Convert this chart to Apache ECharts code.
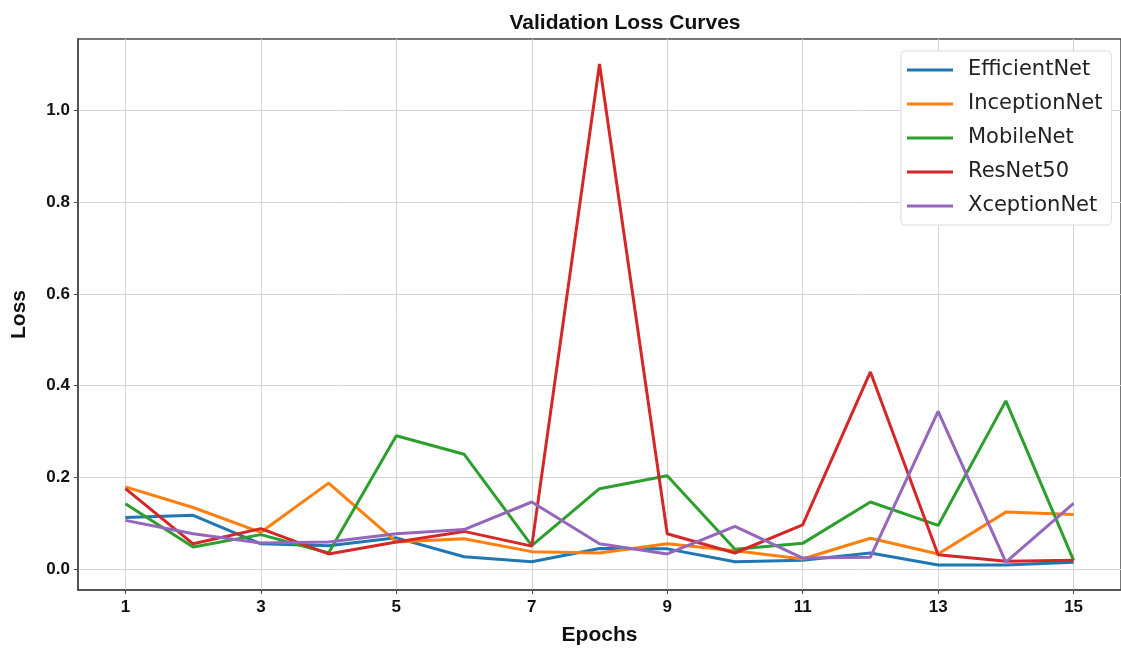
<!DOCTYPE html>
<html lang="en">
<head>
  <meta http-equiv="Content-Type" content="text/html; charset=UTF-8">
  <title>Validation Loss Curves</title>
  <style>
    html, body {
      margin: 0;
      padding: 0;
      background: #fff;
    }
    #myChart {
      width: 1121px;
      height: 652px;
    }
  </style>
</head>
<body>
  <div id="myChart"></div>
  <script src="https://cdn.jsdelivr.net/npm/echarts@6.0.0/dist/echarts.min.js"></script>
  <script>
    // data
    const epochs = [1, 2, 3, 4, 5, 6, 7, 8, 9, 10, 11, 12, 13, 14, 15];
    const efficientNet = [0.113, 0.118, 0.056, 0.052, 0.069, 0.028, 0.017, 0.046, 0.045, 0.017, 0.020, 0.036, 0.010, 0.010, 0.016];
    const inceptionNet = [0.180, 0.135, 0.081, 0.188, 0.060, 0.067, 0.039, 0.036, 0.056, 0.041, 0.023, 0.068, 0.034, 0.125, 0.120];
    const mobileNet = [0.143, 0.049, 0.076, 0.036, 0.291, 0.251, 0.052, 0.176, 0.204, 0.044, 0.057, 0.147, 0.096, 0.367, 0.020];
    const resNet50 = [0.176, 0.056, 0.089, 0.034, 0.060, 0.083, 0.051, 1.100, 0.078, 0.036, 0.097, 0.430, 0.032, 0.018, 0.020];
    const xceptionNet = [0.107, 0.078, 0.058, 0.060, 0.078, 0.087, 0.147, 0.056, 0.034, 0.094, 0.025, 0.027, 0.344, 0.016, 0.144];

    const xTicks = [1, 3, 5, 7, 9, 11, 13, 15];
    const yTicks = [0, 0.2, 0.4, 0.6, 0.8, 1.0];

    const models = [
      { name: 'EfficientNet', values: efficientNet, color: '#1f77b4' },
      { name: 'InceptionNet', values: inceptionNet, color: '#ff7f0e' },
      { name: 'MobileNet', values: mobileNet, color: '#2ca02c' },
      { name: 'ResNet50', values: resNet50, color: '#d62728' },
      { name: 'XceptionNet', values: xceptionNet, color: '#9467bd' },
    ];

    const boldFont = 'Liberation Sans, Arial, sans-serif';
    const gridLine = { show: true, lineStyle: { color: '#d4d4d4', width: 1 } };
    const frame = { show: true, onZero: false, lineStyle: { color: '#4a4a4a', width: 1.5 } };

    const option = {
      animation: false,
      title: {
        text: 'Validation Loss Curves',
        left: 620,
        top: 8,
        textAlign: 'center',
        textStyle: {
          fontFamily: boldFont,
          fontWeight: 'bold',
          fontSize: 21,
          color: '#111',
        },
      },
      legend: {
        orient: 'vertical',
        left: 901,
        top: 51,
        padding: [8, 9, 8, 6],
        itemGap: 12,
        itemWidth: 46,
        itemHeight: 3,
        icon: 'rect',
        backgroundColor: '#fff',
        borderColor: '#dcdcdc',
        borderWidth: 1,
        borderRadius: 4,
        textStyle: {
          fontFamily: 'DejaVu Sans, sans-serif',
          fontSize: 21,
          lineHeight: 22,
          color: '#222',
          padding: [0, 0, 0, 10],
        },
        data: models.map(m => m.name),
      },
      grid: {
        left: 78,
        top: 39,
        right: 0,
        bottom: 62,
        outerBoundsMode: 'none',
        containLabel: false,
        show: true,
        borderColor: '#4a4a4a',
        borderWidth: 1.5,
      },
      xAxis: {
        type: 'value',
        min: 0.3,
        max: 15.7,
        name: 'Epochs',
        nameLocation: 'middle',
        nameGap: 35,
        nameTextStyle: {
          fontFamily: boldFont,
          fontWeight: 'bold',
          fontSize: 21,
          color: '#111',
        },
        axisLine: frame,
        axisTick: { show: true, length: 4, customValues: xTicks, lineStyle: { color: '#4a4a4a' } },
        axisLabel: {
          customValues: xTicks,
          margin: 9,
          fontFamily: boldFont,
          fontWeight: 'bold',
          fontSize: 17,
          color: '#111',
        },
        splitLine: gridLine,
      },
      yAxis: {
        type: 'value',
        min: -0.0445,
        max: 1.1545,
        name: 'Loss',
        nameLocation: 'middle',
        nameGap: 48,
        nameTextStyle: {
          fontFamily: boldFont,
          fontWeight: 'bold',
          fontSize: 21,
          color: '#111',
        },
        axisLine: frame,
        axisTick: { show: true, length: 4, customValues: yTicks, lineStyle: { color: '#4a4a4a' } },
        axisLabel: {
          customValues: yTicks,
          margin: 8,
          formatter: v => v.toFixed(1),
          fontFamily: boldFont,
          fontWeight: 'bold',
          fontSize: 17,
          color: '#111',
        },
        splitLine: gridLine,
      },
      series: models.map(m => ({
        name: m.name,
        type: 'line',
        showSymbol: false,
        color: m.color,
        lineStyle: { width: 3, color: m.color },
        data: epochs.map((e, i) => [e, m.values[i]]),
      })),
    };

    const myChart = echarts.init(document.getElementById('myChart'));
    myChart.setOption(option);
  </script>
</body>
</html>
